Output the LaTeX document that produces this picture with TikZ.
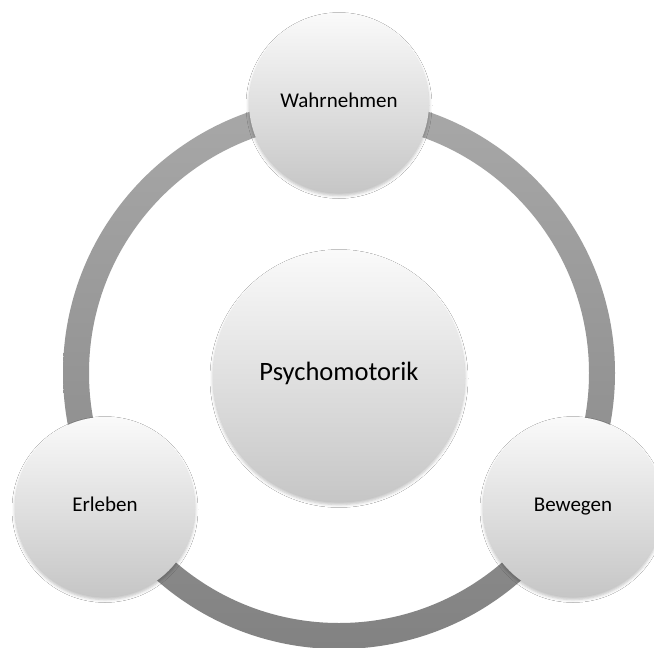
\documentclass[tikz,border=0pt]{standalone}
\usepackage{fontspec}
\setmainfont{Carlito}
\usetikzlibrary{shadows.blur}
\definecolor{ringtop}{HTML}{A8A8A8}
\definecolor{ringbot}{HTML}{828282}
\definecolor{bubtop}{HTML}{FAFAFA}
\definecolor{bubbot}{HTML}{C6C6C6}
\tikzset{
  bubble/.style={circle, inner sep=0pt, top color=bubtop, bottom color=bubbot,
    blur shadow={shadow xshift=0pt, shadow yshift=-2.5pt, shadow blur radius=3pt, shadow opacity=25},
    text=black, text height=1.9ex, text depth=0.1ex},
  smallbub/.style={bubble, minimum size=180pt, font=\fontsize{21}{25}\selectfont},
  bigbub/.style={bubble, minimum size=252pt, font=\fontsize{26.5}{31}\selectfont},
}
\begin{document}
\begin{tikzpicture}[x=1pt,y=-1pt]
\path[fill=white] (0,0) rectangle (654,648);
\useasboundingbox (0,0) rectangle (654,648);
\coordinate (c) at (339,373);
\shade[top color=ringtop, bottom color=ringbot, even odd rule]
  (c) circle (276pt) (c) circle (250pt);
\node[bigbub] (p) at (339,376) {Psychomotorik};
\node[smallbub] (w) at (339,103) {Wahrnehmen};
\node[smallbub] (e) at (105,507) {Erleben};
\node[smallbub] (b) at (573,507) {Bewegen};
\end{tikzpicture}
\end{document}
